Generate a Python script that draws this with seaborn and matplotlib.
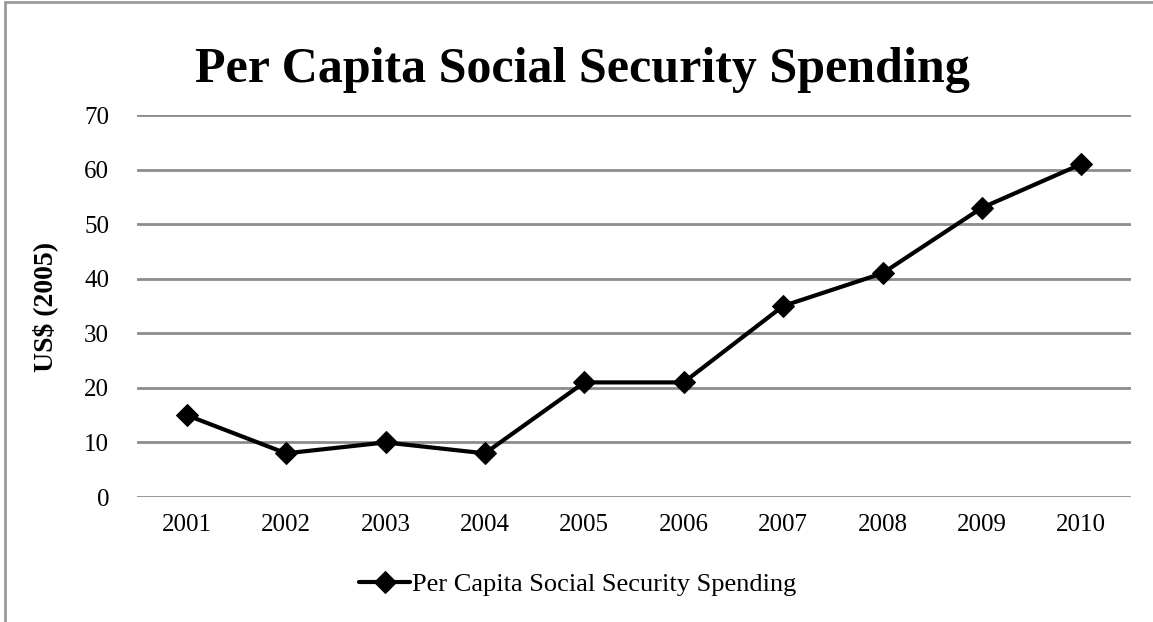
import matplotlib
matplotlib.use("Agg")
import matplotlib.pyplot as plt
import seaborn as sns
import pandas as pd

years = ["2001", "2002", "2003", "2004", "2005", "2006", "2007", "2008", "2009", "2010"]
spending = [15, 8, 10, 8, 21, 21, 35, 41, 53, 61]
series_name = "Per Capita Social Security Spending"

sns.set_style("white")
plt.rcParams["font.family"] = ["Liberation Serif", "DejaVu Serif"]
plt.rcParams["text.color"] = "black"
plt.rcParams["xtick.color"] = "black"
plt.rcParams["ytick.color"] = "black"
plt.rcParams["axes.labelcolor"] = "black"

df = pd.DataFrame({"year": years, "value": spending})

fig = plt.figure(figsize=(11.53, 6.22), dpi=100)
ax = fig.add_axes([137 / 1153, 1 - 497 / 622, (1131 - 137) / 1153, (497 - 115) / 622])

sns.lineplot(data=df, x="year", y="value", ax=ax, color="black", linewidth=3,
             marker="D", markersize=11, markeredgecolor="black",
             label=series_name, sort=False)

ax.set_ylim(0, 70)
ax.set_xlim(-0.5, len(years) - 0.5)
ax.set_yticks(range(0, 71, 10))
ax.yaxis.grid(True, color="#8c8c8c", linewidth=2)
ax.set_axisbelow(True)
for s in ax.spines.values():
    s.set_visible(False)
ax.tick_params(axis="both", length=0, labelsize=18)
ax.tick_params(axis="x", pad=12)
ax.tick_params(axis="y", pad=20)
ax.set_xlabel("")
ax.set_ylabel("US$ (2005)", fontsize=20, fontweight="bold", va="center")
ax.yaxis.set_label_coords(-0.0926, 0.497)

fig.suptitle(series_name, fontsize=36, fontweight="bold",
             x=582 / 1153, y=1 - 70 / 622, va="center")

# legend centred under the whole figure
ax.legend(loc="center", bbox_to_anchor=(578 / 1153, 1 - 584 / 622),
          bbox_transform=fig.transFigure,
          frameon=False, fontsize=19, handlelength=1.9, handletextpad=0.1)

# outer frame on the left and top edges
fig.add_artist(plt.Line2D([5 / 1153, 5 / 1153], [0, 1 - 2 / 622], color="#9a9a9a", linewidth=2,
                          transform=fig.transFigure))
fig.add_artist(plt.Line2D([5 / 1153, 1], [1 - 2 / 622, 1 - 2 / 622], color="#9a9a9a", linewidth=2,
                          transform=fig.transFigure))

fig.savefig("out.png", dpi=100)
